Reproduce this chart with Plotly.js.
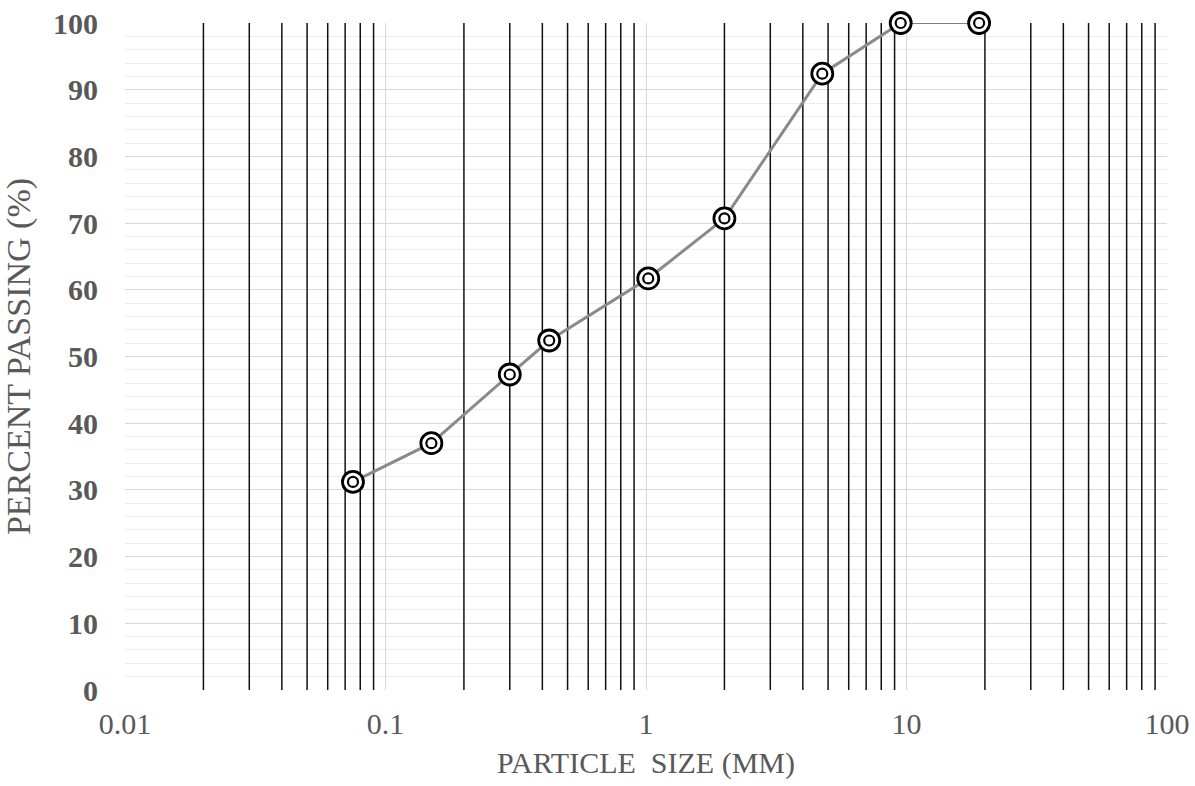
<!DOCTYPE html>
<html>
<head>
<meta charset="utf-8">
<script src="https://cdn.plot.ly/plotly-3.0.1.min.js"></script>
<style>html,body{margin:0;padding:0;background:#fff;}#chart{width:1195px;height:786px;}</style>
</head>
<body>
<div id="chart"></div>
<script>
// Data
const particleSize = [0.075, 0.15, 0.3, 0.425, 1.02, 2.0, 4.75, 9.5, 19];
const percentPassing = [31.2, 37.0, 47.3, 52.4, 61.7, 70.7, 92.4, 100, 100];

const xTickVals = [0.01, 0.1, 1, 10, 100];
const xTickText = ['0.01', '0.1', '1', '10', '100'];
const yTickVals = [0, 10, 20, 30, 40, 50, 60, 70, 80, 90, 100];
const minorMultipliers = [2, 3, 4, 5, 6, 7, 8, 9];
const decades = [0.01, 0.1, 1, 10];

const serif = 'Liberation Serif, Times New Roman, serif';
const textGray = '#595959';

const mainLine = {
  x: particleSize.slice(0, 8), y: percentPassing.slice(0, 8),
  type: 'scatter', mode: 'lines', cliponaxis: false,
  line: {color: '#8a8a8a', width: 3}, hoverinfo: 'skip', showlegend: false
};
const tailLine = {
  x: particleSize.slice(7), y: percentPassing.slice(7),
  type: 'scatter', mode: 'lines', cliponaxis: false,
  line: {color: '#555555', width: 1.5}, hoverinfo: 'skip', showlegend: false
};
const outerRing = {
  x: particleSize, y: percentPassing, type: 'scatter', mode: 'markers', cliponaxis: false,
  marker: {symbol: 'circle', size: 21, color: '#ffffff', line: {color: '#000000', width: 2.8}},
  showlegend: false
};
const innerRing = {
  x: particleSize, y: percentPassing, type: 'scatter', mode: 'markers', cliponaxis: false,
  marker: {symbol: 'circle', size: 10, color: '#ffffff', line: {color: '#000000', width: 2.2}},
  showlegend: false, hoverinfo: 'skip'
};

const shapes = [];
decades.forEach(d => minorMultipliers.forEach(m => {
  shapes.push({type: 'line', xref: 'x', yref: 'y', x0: d * m, x1: d * m, y0: 0, y1: 100,
    layer: 'between', line: {color: '#111111', width: 1.5}});
}));

const layout = {
  width: 1195, height: 786,
  margin: {l: 125, r: 28, t: 23, b: 96},
  paper_bgcolor: '#ffffff', plot_bgcolor: '#ffffff',
  showlegend: false,
  xaxis: {
    type: 'log', range: [-2, 2],
    tickvals: xTickVals, ticktext: xTickText,
    showgrid: true, gridcolor: '#d9d9d9', gridwidth: 1,
    zeroline: false, showline: false, ticks: '',
    ticklabelstandoff: 13,
    tickfont: {family: serif, size: 30, color: textGray},
    title: {text: 'PARTICLE&nbsp;&nbsp;SIZE (MM)', standoff: 12,
      font: {family: serif, size: 30, color: textGray}}
  },
  yaxis: {
    range: [0, 100], tickvals: yTickVals,
    showgrid: true, gridcolor: '#d9d9d9', gridwidth: 1,
    minor: {dtick: 2, showgrid: true, gridcolor: '#ececec', gridwidth: 1},
    zeroline: false, showline: false, ticks: '',
    ticklabelstandoff: 26,
    tickfont: {family: serif, size: 30, color: textGray, weight: 'bold'},
    title: {text: 'PERCENT PASSING (%)', standoff: 14,
      font: {family: serif, size: 34, color: textGray}}
  },
  shapes: shapes
};

Plotly.newPlot('chart', [mainLine, tailLine, outerRing, innerRing], layout, {displayModeBar: false, staticPlot: true});
</script>
</body>
</html>
